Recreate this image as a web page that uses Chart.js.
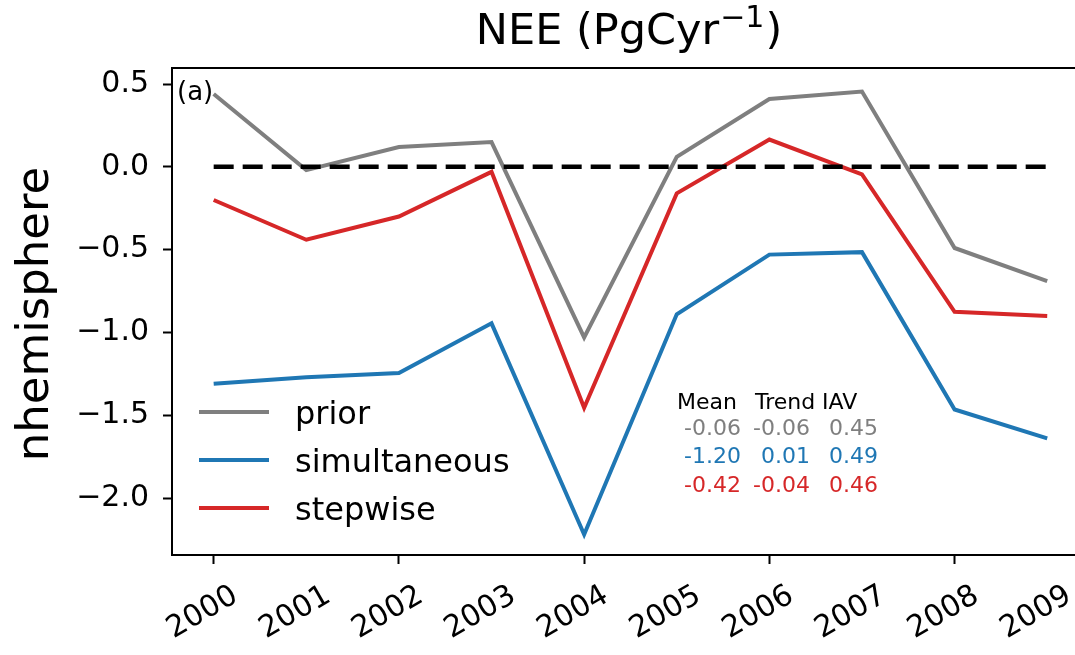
<!DOCTYPE html>
<html>
<head>
<meta charset="utf-8">
<script src="https://cdn.jsdelivr.net/npm/chart.js@4.4.0/dist/chart.umd.min.js"></script>
<style>
  html, body { margin: 0; padding: 0; background: #fff; overflow: hidden; }
</style>
</head>
<body>
<canvas id="nee" width="1075" height="655"></canvas>
<script>
const years = ['2000', '2001', '2002', '2003', '2004', '2005', '2006', '2007', '2008', '2009'];
const prior = [0.44, -0.02, 0.12, 0.15, -1.03, 0.06, 0.41, 0.455, -0.49, -0.69];
const simultaneous = [-1.31, -1.27, -1.245, -0.945, -2.22, -0.89, -0.53, -0.515, -1.465, -1.64];
const stepwise = [-0.20, -0.44, -0.30, -0.03, -1.455, -0.16, 0.165, -0.045, -0.875, -0.90];
const yTicks = [-2.0, -1.5, -1.0, -0.5, 0.0, 0.5];

const statNames = ['Mean', 'Trend', 'IAV'];
const statsPrior = [-0.06, -0.06, 0.45];
const statsSimultaneous = [-1.20, 0.01, 0.49];
const statsStepwise = [-0.42, -0.04, 0.46];

const GRAY = '#7f7f7f', BLUE = '#1f77b4', RED = '#d62728';
const FONT = '"DejaVu Sans", sans-serif';

const toPts = arr => arr.map((v, i) => ({ x: i, y: v }));

// title, y label, legend, stats text and the top spine
const extras = {
  id: 'extras',
  afterDraw(chart) {
    const ctx = chart.ctx;
    const area = chart.chartArea;
    ctx.save();

    // top spine
    ctx.strokeStyle = '#000';
    ctx.lineWidth = 2;
    ctx.beginPath();
    ctx.moveTo(area.left - 1, area.top);
    ctx.lineTo(area.right, area.top);
    ctx.stroke();

    // title with superscript
    ctx.fillStyle = '#000';
    ctx.textBaseline = 'alphabetic';
    ctx.textAlign = 'left';
    const big = '43px ' + FONT, small = '30px ' + FONT;
    ctx.font = big;
    const w1 = ctx.measureText('NEE (PgCyr').width;
    const w3 = ctx.measureText(')').width;
    ctx.font = small;
    const w2 = ctx.measureText('\u22121').width;
    let tx = 628 - (w1 + w2 + w3) / 2;
    ctx.font = big;
    ctx.fillText('NEE (PgCyr', tx, 44);
    ctx.font = small;
    ctx.fillText('\u22121', tx + w1 + 1, 27);
    ctx.font = big;
    ctx.fillText(')', tx + w1 + w2 + 2, 44);

    // y axis title
    ctx.save();
    ctx.translate(48, 314);
    ctx.rotate(-Math.PI / 2);
    ctx.textAlign = 'center';
    ctx.font = '45px ' + FONT;
    ctx.fillText('nhemisphere', 0, 0);
    ctx.restore();

    // panel tag
    ctx.font = '26px ' + FONT;
    ctx.fillText('(a)', 177, 100);

    // legend
    const items = chart.data.datasets.filter(d => d.label);
    items.forEach((d, i) => {
      const y = 412 + i * 48;
      ctx.strokeStyle = d.borderColor;
      ctx.lineWidth = 4;
      ctx.beginPath();
      ctx.moveTo(199, y);
      ctx.lineTo(269, y);
      ctx.stroke();
      ctx.fillStyle = '#000';
      ctx.font = '32px ' + FONT;
      ctx.fillText(d.label, 295, y + 12);
    });

    // stats table
    ctx.font = '22px ' + FONT;
    ctx.fillStyle = '#000';
    [677, 755, 822].forEach((x, i) => ctx.fillText(statNames[i], x, 409));
    ctx.textAlign = 'right';
    [[statsPrior, GRAY, 435], [statsSimultaneous, BLUE, 463], [statsStepwise, RED, 492]].forEach(row => {
      ctx.fillStyle = row[1];
      [741, 810, 878].forEach((x, i) => ctx.fillText(row[0][i].toFixed(2), x, row[2]));
    });

    ctx.restore();
  }
};

new Chart(document.getElementById('nee'), {
  type: 'line',
  data: {
    datasets: [
      {
        data: [{ x: 0, y: 0 }, { x: 9, y: 0 }],
        borderColor: '#000',
        borderWidth: 4.5,
        borderDash: [20, 9],
        pointRadius: 0
      },
      { label: 'prior', data: toPts(prior), borderColor: GRAY, borderWidth: 4, pointRadius: 0 },
      { label: 'simultaneous', data: toPts(simultaneous), borderColor: BLUE, borderWidth: 4, pointRadius: 0 },
      { label: 'stepwise', data: toPts(stepwise), borderColor: RED, borderWidth: 4, pointRadius: 0 }
    ]
  },
  options: {
    responsive: false,
    animation: false,
    layout: { padding: { top: 68, left: 0, right: 0, bottom: 0 } },
    plugins: { legend: { display: false }, tooltip: { enabled: false }, title: { display: false } },
    scales: {
      x: {
        type: 'linear',
        min: -0.45,
        max: 9.3,
        afterBuildTicks: scale => { scale.ticks = years.map((y, i) => ({ value: i })); },
        afterFit: scale => {
          scale.height = 100;
          scale.paddingLeft = 0;
          scale.paddingRight = 0;
        },
        ticks: {
          callback: v => years[v],
          minRotation: 30,
          maxRotation: 30,
          labelOffset: 22,
          padding: 14,
          color: '#000',
          font: { family: FONT, size: 30 }
        },
        grid: {
          drawOnChartArea: false,
          tickLength: 9,
          tickWidth: 2,
          tickColor: ctx => (ctx.tick && ctx.tick.value % 2 === 0 ? '#000' : 'rgba(0,0,0,0)')
        },
        border: { color: '#000', width: 2 }
      },
      y: {
        min: -2.344,
        max: 0.597,
        afterBuildTicks: scale => { scale.ticks = yTicks.map(v => ({ value: v })); },
        afterFit: scale => { scale.width = 172; },
        ticks: {
          callback: v => (v < 0 ? '\u2212' : '') + Math.abs(v).toFixed(1),
          padding: 14,
          color: '#000',
          font: { family: FONT, size: 30 }
        },
        grid: { drawOnChartArea: false, tickLength: 9, tickWidth: 2, tickColor: '#000' },
        border: { color: '#000', width: 2 }
      }
    }
  },
  plugins: [extras]
});
</script>
</body>
</html>
